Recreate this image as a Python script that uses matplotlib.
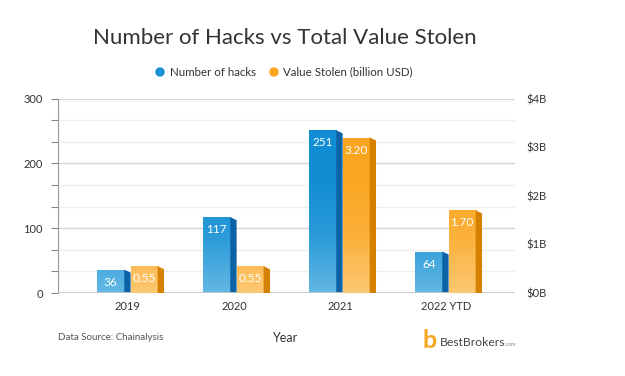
import numpy as np
import matplotlib.pyplot as plt
from matplotlib.patches import Polygon, Ellipse
from matplotlib.colors import LinearSegmentedColormap

years = ["2019", "2020", "2021", "2022 YTD"]
hacks = [36, 117, 251, 64]
stolen = [0.55, 0.55, 3.20, 1.70]
hack_labels = ["36", "117", "251", "64"]
stolen_labels = ["0.55", "0.55", "3.20", "1.70"]
right_ticks = [0, 1, 2, 3, 4]
right_labels = ["$0B", "$1B", "$2B", "$3B", "$4B"]

plt.rcParams['font.family'] = ['Lato', 'DejaVu Sans']

fig = plt.figure(figsize=(6.25, 3.76), dpi=100)
ax = fig.add_axes([0.0928, 0.2207, 0.731, 0.517])
ax2 = ax.twinx()

x = np.arange(len(years))
w = 0.255   # front face width
d = 0.06    # side depth

blue_cm = LinearSegmentedColormap.from_list("b", ["#62b8e4", "#2a9ad8", "#108dd3", "#108dd3"])
orng_cm = LinearSegmentedColormap.from_list("o", ["#fdc873", "#fbb038", "#f9a520", "#f9a520"])


def draw_bars(a, xs, vals, labels, ymax, cmap, side_col, drop):
    bars = a.bar(xs, vals, width=w, align='edge', color='none', zorder=3)
    grad = np.linspace(0, 1, 256).reshape(-1, 1)
    for b, v, lab in zip(bars, vals, labels):
        x0 = b.get_x()
        x1 = x0 + w
        im = a.imshow(grad, cmap=cmap, origin='lower', aspect='auto',
                      extent=[x0, x1, 0, ymax * 0.9], zorder=3, interpolation='bilinear')
        im.set_clip_path(b)
        side = Polygon([(x1, 0), (x1, v), (x1 + d, v - drop), (x1 + d, 0)],
                       closed=True, facecolor=side_col, edgecolor='none', zorder=3)
        a.add_patch(side)
        a.annotate(lab, (x0 + w / 2, v), xytext=(0, -9), textcoords='offset points',
                   ha='center', va='center', color='white', fontsize=8.5, zorder=5)


draw_bars(ax, x - w - d / 2 - 0.005, hacks, hack_labels, 300, blue_cm, "#0b63a6", 4.5)
draw_bars(ax2, x + d / 2 - 0.005, stolen, stolen_labels, 4, orng_cm, "#d68000", 0.06)

ax.set_xlim(-0.66, 3.65)
ax.set_ylim(0, 300)
ax2.set_ylim(0, 4)

# gridlines
for v in np.arange(0, 301, 100 / 3):
    major = abs(v / 100 - round(v / 100)) < 1e-6
    ax.axhline(v, color='#d6d6d6' if major else '#efefef', lw=1.0, zorder=1)
ax.axhline(0, color='#c8c8c8', lw=2, zorder=4)

ax.set_yticks([0, 100, 200, 300])
ax.set_yticks(np.arange(0, 301, 100 / 3), minor=True)
ax.tick_params(axis='y', which='both', length=5, color='#888888', width=0.8,
               labelsize=8, labelcolor='#333333', pad=6)
ax.set_xticks(x)
ax.set_xticklabels(years)
ax.tick_params(axis='x', length=0, labelsize=8, labelcolor='#333333', pad=6)

ax2.set_yticks(right_ticks)
ax2.set_yticklabels(right_labels)
ax2.tick_params(axis='y', length=0, labelsize=8, labelcolor='#333333', pad=8)

for a in (ax, ax2):
    for s in ['top', 'right', 'bottom', 'left']:
        a.spines[s].set_visible(False)
ax.spines['left'].set_visible(True)
ax.spines['left'].set_color('#999999')
ax.spines['left'].set_linewidth(0.8)
ax.set_axisbelow(True)

# title and legend
fig.text(0.456, 0.90, "Number of Hacks vs Total Value Stolen", ha='center', va='center',
         fontsize=16, color='#333333')
ly = 1 - 72 / 376
fig.patches.append(Ellipse((160 / 625, ly), 8 / 625, 8 / 376, transform=fig.transFigure,
                           color='#1591d5', figure=fig))
fig.text(170 / 625, ly, "Number of hacks", ha='left', va='center', fontsize=8.3, color='#333333')
fig.patches.append(Ellipse((274 / 625, ly), 8 / 625, 8 / 376, transform=fig.transFigure,
                           color='#f9a620', figure=fig))
fig.text(283 / 625, ly, "Value Stolen (billion USD)", ha='left', va='center',
         fontsize=8.3, color='#333333')

# footer
fig.text(58 / 625, 1 - 337 / 376, "Data Source: Chainalysis", ha='left', va='center',
         fontsize=7, color='#555555')
fig.text(285 / 625, 1 - 338 / 376, "Year", ha='center', va='center', fontsize=9, color='#333333')
fig.text(423 / 625, 1 - 340 / 376, "b", ha='left', va='center', fontsize=18, color='#f9a620',
         fontweight='bold')
fig.text(440 / 625, 1 - 342 / 376, "BestBrokers", ha='left', va='center', fontsize=8.7, color='#444444')
fig.text(505 / 625, 1 - 344 / 376, ".com", ha='left', va='center', fontsize=4, color='#888888')

fig.savefig("out.png", dpi=100, facecolor='white')
